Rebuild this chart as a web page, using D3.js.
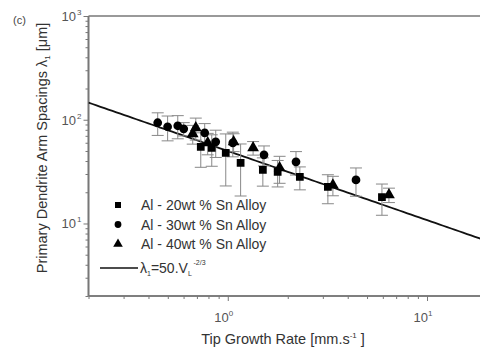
<!DOCTYPE html>
<html><head>
<meta charset="utf-8">
<script src="https://d3js.org/d3.v7.min.js"></script>
<style>
  body { margin: 0; background: #fff; }
  text { font-family: Arial, "Liberation Sans", sans-serif; }
</style>
</head>
<body>
<div id="chart"></div>
<script>
// tip growth rate V [mm/s], spacing [um], error [um]
const al20 = [
  [0.732, 54.8, 20], [0.831, 53.6, 18], [0.977, 48.0, 25], [1.16, 38.4, 20],
  [1.50, 32.9, 10], [1.78, 31.5, 9], [2.30, 28.1, 7], [3.18, 22.5, 7], [5.94, 18.0, 6]
];
const al30 = [
  [0.445, 93.6, 23], [0.499, 85.6, 23], [0.561, 87.5, 22], [0.601, 81.8, 12],
  [0.766, 74.8, 17], [0.870, 61.3, 18], [1.06, 59.9, 16], [1.52, 45.9, 10],
  [2.20, 39.3, 10], [4.40, 26.3, 8]
];
const al40 = [
  [0.667, 73.2, 15], [0.691, 83.7, 20], [0.793, 59.9, 14], [1.07, 61.3, 12],
  [1.34, 53.6, 8], [1.82, 34.4, 10], [3.37, 23.5, 5], [6.44, 18.9, 3]
];
const fitK = 50, fitExp = -2 / 3;
const xDomain = [0.2, 20], yDomain = [2, 1000];
const majorX = [1, 10], majorY = [10, 100, 1000];
const legendLabels = ["Al - 20wt % Sn Alloy", "Al - 30wt % Sn Alloy", "Al -  40wt % Sn Alloy"];

const width = 480, height = 349;
const svg = d3.select("#chart").append("svg").attr("width", width).attr("height", height);

const x = d3.scaleLog().domain(xDomain).range([88.5, 487]);
const y = d3.scaleLog().domain(yDomain).range([296, 16]);

function minors(d0, d1) {
  let out = [];
  for (let e = Math.floor(Math.log10(d0)); e <= Math.ceil(Math.log10(d1)); e++) {
    for (let m = 2; m < 10; m++) {
      let v = m * Math.pow(10, e);
      if (v >= d0 && v <= d1) out.push(v);
    }
  }
  return out;
}

const axisColor = "#777";

// axes
const gx = svg.append("g").attr("transform", "translate(0,296)");
gx.call(d3.axisBottom(x).tickValues(minors(...xDomain)).tickSize(3).tickFormat(""));
gx.append("g").call(d3.axisBottom(x).tickValues(majorX).tickSize(5).tickFormat(""));
const gy = svg.append("g").attr("transform", "translate(88.5,0)");
gy.call(d3.axisLeft(y).tickValues(minors(...yDomain)).tickSize(3).tickFormat(""));
gy.append("g").call(d3.axisLeft(y).tickValues(majorY).tickSize(5).tickFormat(""));
svg.selectAll(".domain").attr("stroke", axisColor).attr("stroke-width", 1.6);
svg.selectAll(".tick line").attr("stroke", axisColor);
gx.selectAll(".domain").attr("d", "M88.5,0H487");
gy.selectAll(".domain").attr("d", "M0,296V16");

// top frame line
svg.append("line").attr("x1", 88.5).attr("x2", 487).attr("y1", y(1000)).attr("y2", y(1000))
  .attr("stroke", axisColor).attr("stroke-width", 1.6);

// tick labels
majorX.forEach(v => {
  const t = svg.append("text").attr("x", x(v) - 4).attr("y", 322).attr("text-anchor", "middle")
    .attr("font-size", 13).attr("fill", "#555");
  t.append("tspan").text("10");
  t.append("tspan").attr("dy", -6).attr("font-size", 8).text(Math.round(Math.log10(v)));
});
majorY.forEach(v => {
  svg.append("text").attr("x", 76).attr("y", y(v) + 5).attr("text-anchor", "end")
    .attr("font-size", 13).attr("fill", "#555").text("10");
  svg.append("text").attr("x", 77).attr("y", y(v) - 1).attr("font-size", 8)
    .attr("fill", "#555").text(Math.round(Math.log10(v)));
});

// axis titles
const xt = svg.append("text").attr("x", 283).attr("y", 344).attr("text-anchor", "middle")
  .attr("font-size", 14.5).attr("fill", "#333");
xt.append("tspan").text("Tip Growth Rate [mm.s");
xt.append("tspan").attr("dy", -6).attr("font-size", 8).text("-1");
xt.append("tspan").attr("dy", 6).text(" ]");

const yt = svg.append("text").attr("transform", "translate(47,148) rotate(-90)")
  .attr("text-anchor", "middle").attr("font-size", 14.5).attr("fill", "#333");
yt.append("tspan").text("Primary Dendrite Arm Spacings λ");
yt.append("tspan").attr("dy", 3).attr("font-size", 8).text("1");
yt.append("tspan").attr("dy", -3).text(" [μm]");

svg.append("text").attr("x", 13).attr("y", 24).attr("font-size", 11).attr("fill", "#444").text("(c)");

// clip
svg.append("clipPath").attr("id", "clip").append("rect")
  .attr("x", 88.5).attr("y", 16).attr("width", 400).attr("height", 280);
const plot = svg.append("g").attr("clip-path", "url(#clip)");

// fit line
const fitPts = d3.range(0, 101).map(i => {
  const v = xDomain[0] * Math.pow(xDomain[1] / xDomain[0], i / 100);
  return [v, fitK * Math.pow(v, fitExp)];
});
plot.append("path").datum(fitPts)
  .attr("d", d3.line().x(d => x(d[0])).y(d => y(d[1])))
  .attr("fill", "none").attr("stroke", "#111").attr("stroke-width", 1.8);

// error bars
const allSeries = [al20, al30, al40];
const errColor = "#888";
allSeries.forEach(s => {
  const g = plot.append("g");
  s.forEach(d => {
    const cx = x(d[0]), y1 = y(d[1] + d[2]), y0 = y(Math.max(d[1] - d[2], 2.01));
    g.append("line").attr("x1", cx).attr("x2", cx).attr("y1", y1).attr("y2", y0).attr("stroke", errColor);
    g.append("line").attr("x1", cx - 6).attr("x2", cx + 6).attr("y1", y1).attr("y2", y1).attr("stroke", errColor);
    g.append("line").attr("x1", cx - 6).attr("x2", cx + 6).attr("y1", y0).attr("y2", y0).attr("stroke", errColor);
  });
});

// markers
const shapes = [d3.symbolSquare, d3.symbolCircle, d3.symbolTriangle];
const sizes = [60, 60, 60];
allSeries.forEach((s, i) => {
  plot.selectAll(null).data(s).enter().append("path")
    .attr("d", d3.symbol().type(shapes[i]).size(sizes[i]))
    .attr("transform", d => `translate(${x(d[0])},${y(d[1])})`)
    .attr("fill", "#000");
});

// legend
const leg = svg.append("g");
legendLabels.forEach((lab, i) => {
  const ly = 205 + i * 19.5;
  leg.append("path").attr("d", d3.symbol().type(shapes[i]).size(i === 2 ? 40 : 36)())
    .attr("transform", `translate(118,${ly})`).attr("fill", "#000");
  leg.append("text").attr("x", 141).attr("y", ly + 5).attr("font-size", 14).attr("fill", "#333").text(lab);
});
leg.append("line").attr("x1", 100).attr("x2", 138).attr("y1", 268).attr("y2", 268)
  .attr("stroke", "#111").attr("stroke-width", 1.5);
const lt = leg.append("text").attr("x", 140).attr("y", 273).attr("font-size", 14).attr("fill", "#333");
lt.append("tspan").text("λ");
lt.append("tspan").attr("dy", 3).attr("font-size", 7).text("1");
lt.append("tspan").attr("dy", -3).text("=50.V");
lt.append("tspan").attr("dy", 3).attr("font-size", 7).text("L");
lt.append("tspan").attr("dy", -11).attr("font-size", 7).text(" -2/3");
</script>
</body></html>
